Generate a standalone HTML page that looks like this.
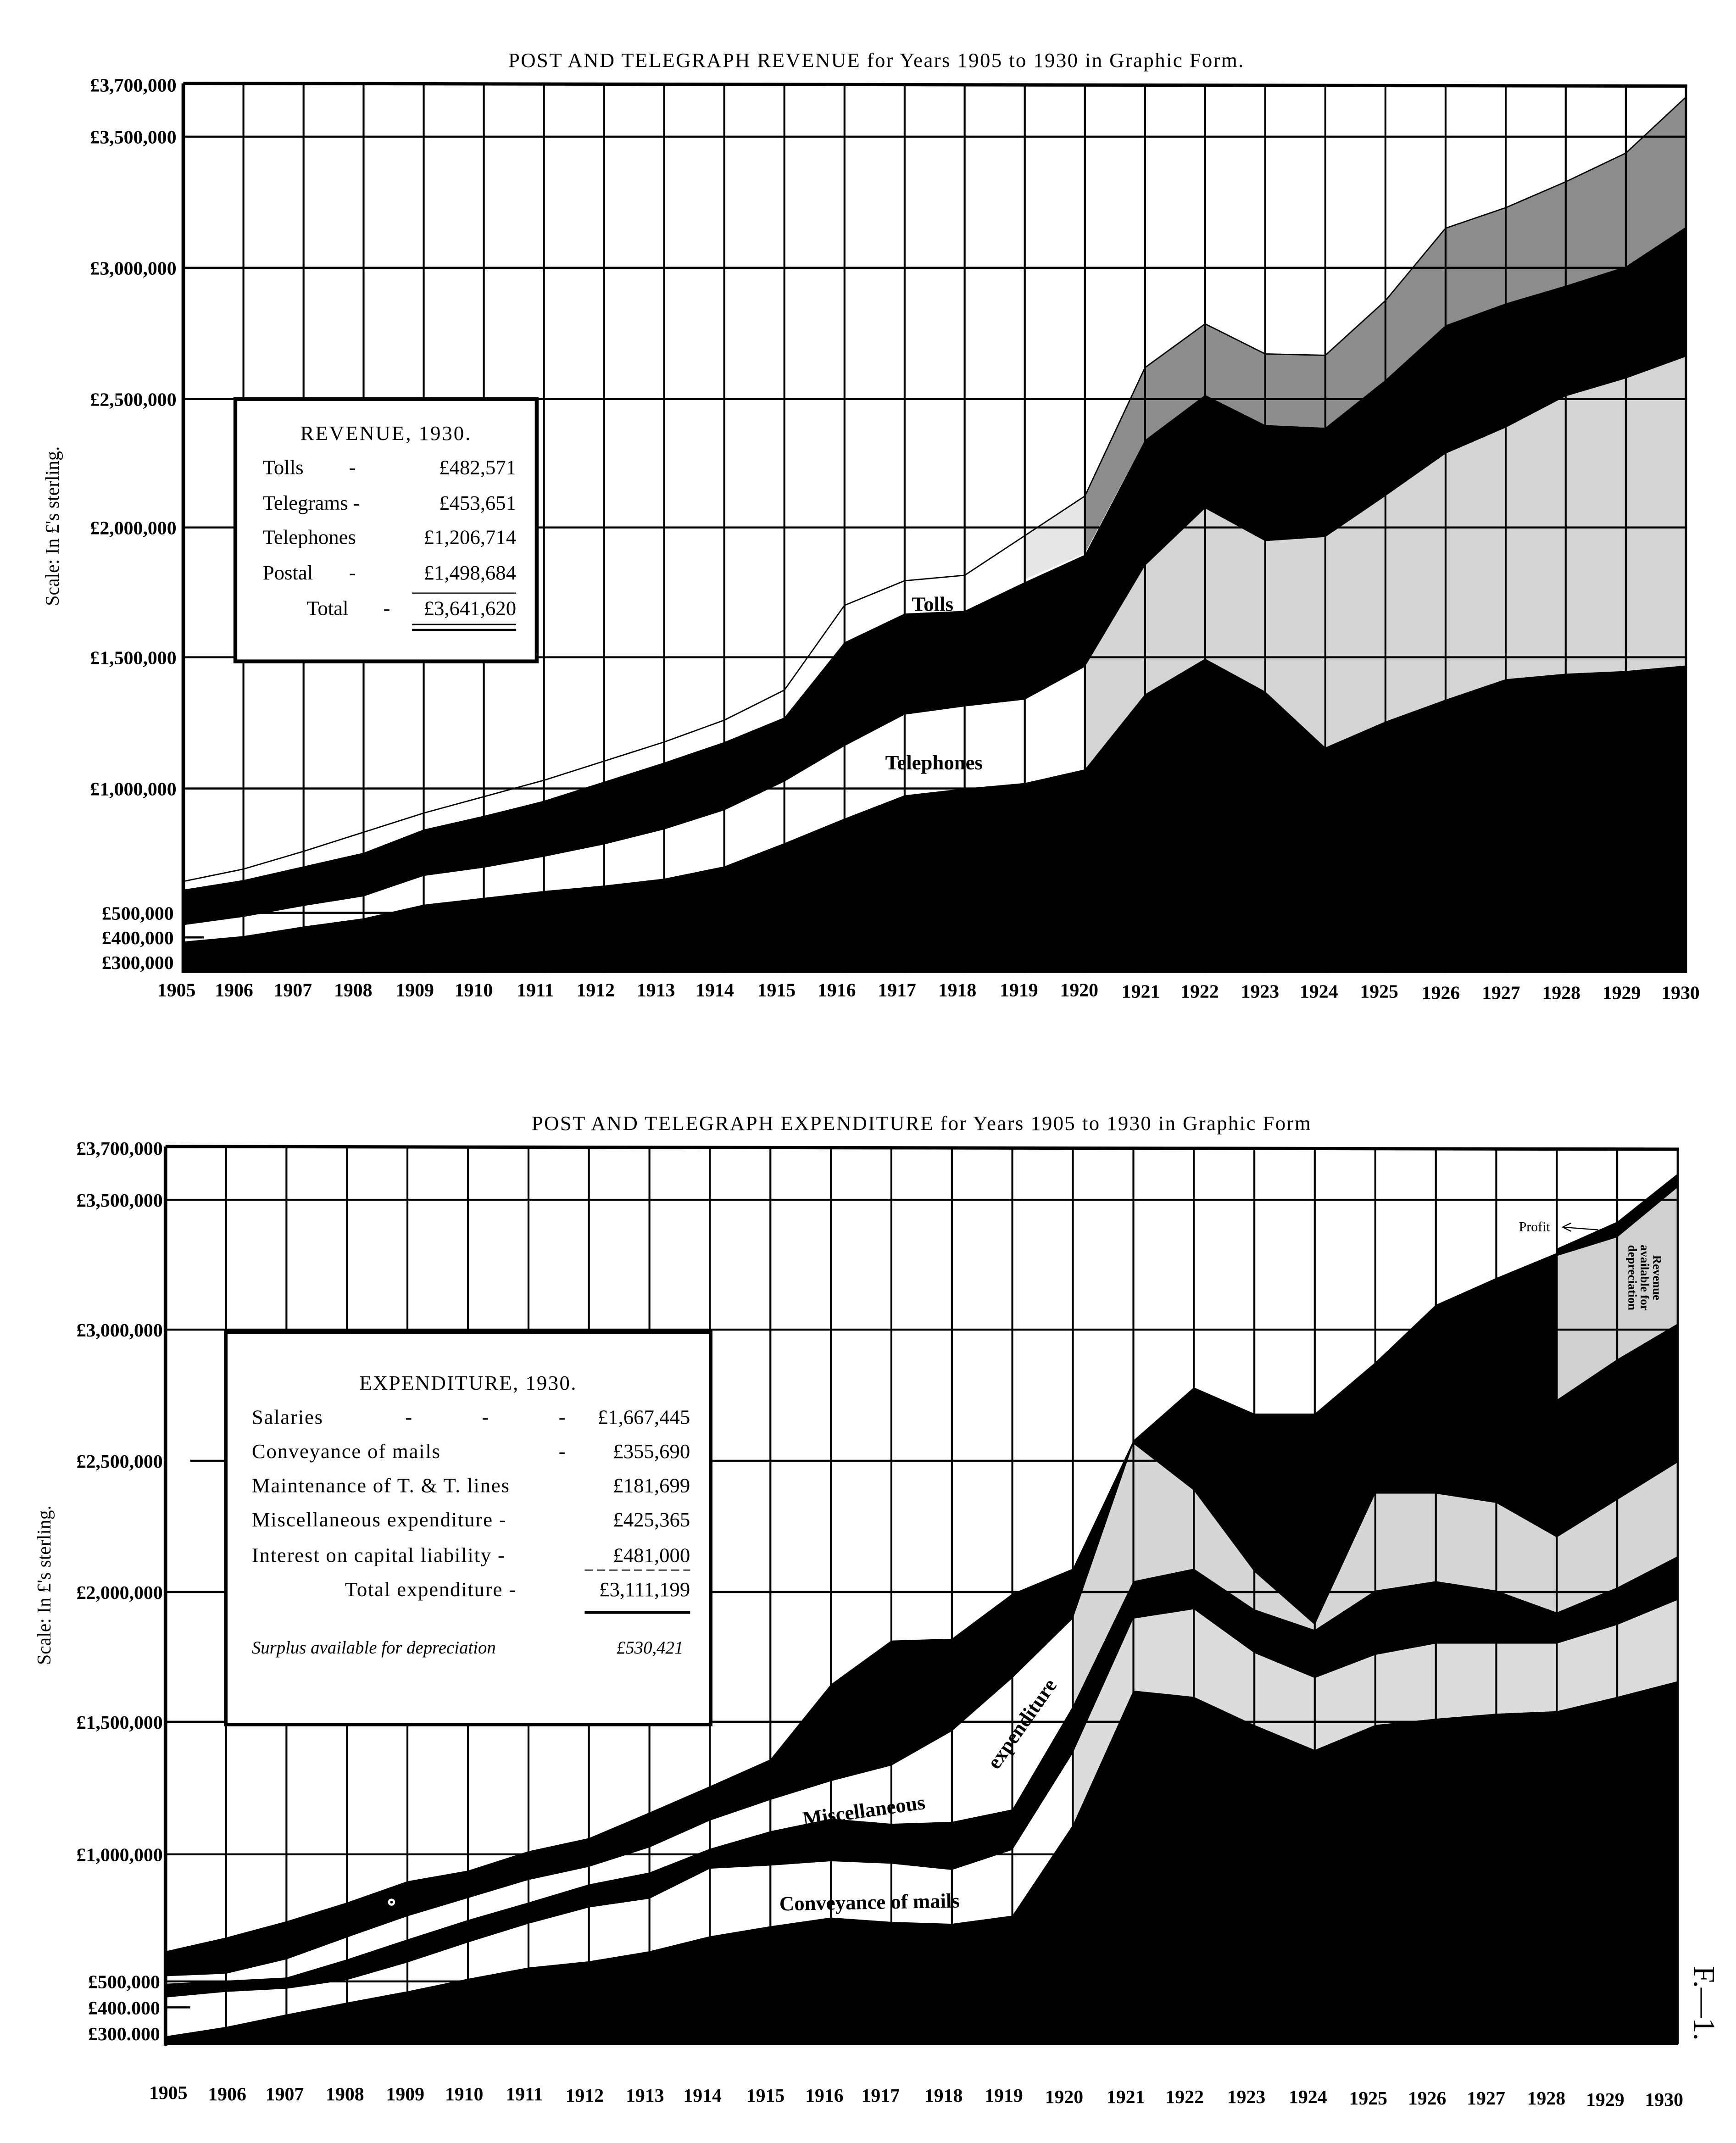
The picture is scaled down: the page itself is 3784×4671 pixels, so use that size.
<!DOCTYPE html>
<html><head><meta charset="utf-8"><style>
html,body{margin:0;padding:0;background:#fff;}
svg{display:block;}
text{font-family:"Liberation Serif",serif;fill:#000;}
.yl{font-size:14px;font-weight:bold;text-anchor:end;}
.xl{font-size:14px;font-weight:bold;text-anchor:middle;}
.lg{font-size:15px;}
</style></head><body>
<svg width="3784" height="4671" viewBox="0 0 1280 1580" preserveAspectRatio="none" xmlns="http://www.w3.org/2000/svg">
<rect x="0" y="0" width="1280" height="1580" fill="#fff"/>
<g transform="matrix(1.01 0 0 1.0075 -1.2 0)">

<!-- ================= TOP CHART ================= -->
<text x="641" y="49" font-size="15" text-anchor="middle" letter-spacing="0.8">POST AND TELEGRAPH REVENUE for Years 1905 to 1930 in Graphic Form.</text>

<g transform="matrix(43.88 0 0 1 135 0)">
  <polygon fill="#d4d4d4" points="15,488 16,414 17,372 18,396 19,393 20,363 21,332 22,313 23,290 24,277 25,261 25,487 24,491 23,493 22,497 21,512 20,528 19,547 18,506 17,482 16,508 15,563"/>
  <polygon fill="#8c8c8c" points="15,363 16,269 17,237 18,259 19,260 20,220 21,167 22,152 23,133 24,112 25,71 25,166 24,195 23,209 22,222 21,238 20,278 19,313 18,311 17,289 16,322 15,405"/>
  <polygon fill="#e6e6e6" points="14,392 15,363 15,405 14,424"/>
</g>

<g stroke="#000" stroke-width="1.5">
  <line x1="135" y1="100" x2="1232" y2="100"/>
  <line x1="135" y1="196" x2="1232" y2="196"/>
  <line x1="135" y1="292" x2="1232" y2="292"/>
  <line x1="135" y1="386" x2="1232" y2="386"/>
  <line x1="135" y1="481" x2="1232" y2="481"/>
  <line x1="135" y1="577" x2="1232" y2="577"/>
  <line x1="135" y1="668" x2="400" y2="668"/>
  <line x1="135" y1="686" x2="150" y2="686"/>
</g>
<g stroke="#000" stroke-width="1.4">
  <line x1="178.9" y1="62" x2="178.9" y2="712"/><line x1="222.8" y1="62" x2="222.8" y2="712"/>
  <line x1="266.6" y1="62" x2="266.6" y2="712"/><line x1="310.5" y1="62" x2="310.5" y2="712"/>
  <line x1="354.4" y1="62" x2="354.4" y2="712"/><line x1="398.3" y1="62" x2="398.3" y2="712"/>
  <line x1="442.2" y1="62" x2="442.2" y2="712"/><line x1="486" y1="62" x2="486" y2="712"/>
  <line x1="529.9" y1="62" x2="529.9" y2="712"/><line x1="573.8" y1="62" x2="573.8" y2="712"/>
  <line x1="617.7" y1="62" x2="617.7" y2="712"/><line x1="661.6" y1="62" x2="661.6" y2="712"/>
  <line x1="705.4" y1="62" x2="705.4" y2="712"/><line x1="749.3" y1="62" x2="749.3" y2="712"/>
  <line x1="793.2" y1="62" x2="793.2" y2="712"/><line x1="837.1" y1="62" x2="837.1" y2="712"/>
  <line x1="881" y1="62" x2="881" y2="712"/><line x1="924.8" y1="62" x2="924.8" y2="712"/>
  <line x1="968.7" y1="62" x2="968.7" y2="712"/><line x1="1012.6" y1="62" x2="1012.6" y2="712"/>
  <line x1="1056.5" y1="62" x2="1056.5" y2="712"/><line x1="1100.4" y1="62" x2="1100.4" y2="712"/>
  <line x1="1144.2" y1="62" x2="1144.2" y2="712"/><line x1="1188.1" y1="62" x2="1188.1" y2="712"/>
</g>
<line x1="135" y1="61" x2="1233" y2="63" stroke="#000" stroke-width="2.4"/>
<line x1="135" y1="61" x2="135" y2="712" stroke="#000" stroke-width="2.6"/>
<line x1="1232" y1="63" x2="1232" y2="712" stroke="#000" stroke-width="1.6"/>

<g transform="matrix(43.88 0 0 1 135 0)">
  <polygon fill="#000" points="0,712 0,689 1,685 2,678 3,672 4,662 5,657 6,652 7,648 8,643 9,634 10,617 11,599 12,582 13,577 14,573 15,563 16,508 17,482 18,506 19,547 20,528 21,512 22,497 23,493 24,491 25,487 25,712"/>
  <polygon fill="#000" points="0,651 1,644 2,634 3,624 4,607 5,597 6,586 7,572 8,558 9,543 10,525 11,470 12,449 13,447 14,426 15,406 16,322 17,289 18,311 19,313 20,278 21,238 22,222 23,209 24,195 25,166 25,261 24,277 23,290 22,313 21,332 20,363 19,393 18,396 17,372 16,414 15,488 14,512 13,517 12,523 11,546 10,572 9,593 8,607 7,618 6,627 5,635 4,641 3,656 2,663 1,671 0,677"/>
  <polyline fill="none" stroke="#000" stroke-width="2.8" vector-effect="non-scaling-stroke" points="0,645 1,636 2,623 3,609 4,595 5,583 6,571 7,557 8,543 9,527 10,505 11,443 12,425 13,421 14,392 15,363 16,269 17,237 18,259 19,260 20,220 21,167 22,152 23,133 24,112 25,71"/>
</g>
<text x="682" y="447" font-size="15" font-weight="bold" text-anchor="middle">Tolls</text>
<text x="683" y="563" font-size="15" font-weight="bold" text-anchor="middle">Telephones</text>

<rect x="173" y="292" width="220" height="192" fill="#fff" stroke="#000" stroke-width="2.8"/>
<text class="lg" x="283" y="322" text-anchor="middle" letter-spacing="1">REVENUE, 1930.</text>
<text class="lg" x="193" y="347">Tolls</text><text class="lg" x="256" y="347">-</text><text class="lg" x="378" y="347" text-anchor="end">£482,571</text>
<text class="lg" x="193" y="373">Telegrams -</text><text class="lg" x="378" y="373" text-anchor="end">£453,651</text>
<text class="lg" x="193" y="398">Telephones</text><text class="lg" x="378" y="398" text-anchor="end">£1,206,714</text>
<text class="lg" x="193" y="424">Postal</text><text class="lg" x="256" y="424">-</text><text class="lg" x="378" y="424" text-anchor="end">£1,498,684</text>
<text class="lg" x="225" y="450">Total</text><text class="lg" x="281" y="450">-</text><text class="lg" x="378" y="450" text-anchor="end">£3,641,620</text>
<line x1="302" y1="434" x2="378" y2="434" stroke="#000" stroke-width="0.8"/>
<line x1="302" y1="457" x2="378" y2="457" stroke="#000" stroke-width="1"/>
<line x1="302" y1="461" x2="378" y2="461" stroke="#000" stroke-width="1.6"/>

<text class="yl" x="130" y="67">£3,700,000</text>
<text class="yl" x="130" y="105">£3,500,000</text>
<text class="yl" x="130" y="201">£3,000,000</text>
<text class="yl" x="130" y="297">£2,500,000</text>
<text class="yl" x="130" y="391">£2,000,000</text>
<text class="yl" x="130" y="486">£1,500,000</text>
<text class="yl" x="130" y="582">£1,000,000</text>
<text class="yl" x="128" y="673">£500,000</text>
<text class="yl" x="128" y="691">£400,000</text>
<text class="yl" x="128" y="709">£300,000</text>
<text x="44" y="385" font-size="14" text-anchor="middle" transform="rotate(-90 44 385)">Scale: In £'s sterling.</text>

<text class="xl" x="130" y="729">1905</text><text class="xl" x="172" y="729">1906</text><text class="xl" x="215" y="729">1907</text>
<text class="xl" x="259" y="729">1908</text><text class="xl" x="304" y="729">1909</text><text class="xl" x="347" y="729">1910</text>
<text class="xl" x="392" y="729">1911</text><text class="xl" x="436" y="729">1912</text><text class="xl" x="480" y="729">1913</text>
<text class="xl" x="523" y="729">1914</text><text class="xl" x="568" y="729">1915</text><text class="xl" x="612" y="729">1916</text>
<text class="xl" x="656" y="729">1917</text><text class="xl" x="700" y="729">1918</text><text class="xl" x="745" y="729">1919</text>
<text class="xl" x="789" y="729">1920</text><text class="xl" x="834" y="730">1921</text><text class="xl" x="877" y="730">1922</text>
<text class="xl" x="921" y="730">1923</text><text class="xl" x="964" y="730">1924</text><text class="xl" x="1008" y="730">1925</text>
<text class="xl" x="1053" y="731">1926</text><text class="xl" x="1097" y="731">1927</text><text class="xl" x="1141" y="731">1928</text>
<text class="xl" x="1185" y="731">1929</text><text class="xl" x="1228" y="731">1930</text>

<!-- ================= BOTTOM CHART ================= -->
<text x="674" y="827" font-size="15" text-anchor="middle" letter-spacing="0.8">POST AND TELEGRAPH EXPENDITURE for Years 1905 to 1930 in Graphic Form</text>

<g transform="matrix(44.16 0 0 0.4575 122 823.1)">
  <polygon fill="#dcdcdc" points="15,1005 16,790 17,775 18,845 19,885 20,848 21,830 22,830 23,830 24,800 25,760 25,890 24,915 23,938 22,942 21,950 20,960 19,1000 18,960 17,915 16,905 15,1120"/>
  <polygon fill="#d6d6d6" points="15,790 16,510 17,585 18,715 19,800 20,590 21,590 22,605 23,660 24,600 25,540 25,690 24,740 23,780 22,745 21,730 20,745 19,808 18,775 17,710 16,730 15,930"/>
  <polygon fill="#d0d0d0" points="23,440 24,375 25,318 25,98 24,180 23,205"/>
</g>

<g stroke="#000" stroke-width="1.5">
  <line x1="122" y1="878" x2="1226" y2="878"/>
  <line x1="122" y1="973" x2="1226" y2="973"/>
  <line x1="140" y1="1069" x2="1226" y2="1069"/>
  <line x1="122" y1="1165" x2="1226" y2="1165"/>
  <line x1="122" y1="1260" x2="1226" y2="1260"/>
  <line x1="122" y1="1357" x2="1226" y2="1357"/>
  <line x1="122" y1="1450" x2="400" y2="1450"/>
  <line x1="122" y1="1469" x2="140" y2="1469"/>
</g>
<g stroke="#000" stroke-width="1.4">
  <line x1="166.2" y1="840" x2="166.2" y2="1496"/><line x1="210.3" y1="840" x2="210.3" y2="1496"/>
  <line x1="254.5" y1="840" x2="254.5" y2="1496"/><line x1="298.6" y1="840" x2="298.6" y2="1496"/>
  <line x1="342.8" y1="840" x2="342.8" y2="1496"/><line x1="387" y1="840" x2="387" y2="1496"/>
  <line x1="431.1" y1="840" x2="431.1" y2="1496"/><line x1="475.3" y1="840" x2="475.3" y2="1496"/>
  <line x1="519.4" y1="840" x2="519.4" y2="1496"/><line x1="563.6" y1="840" x2="563.6" y2="1496"/>
  <line x1="607.8" y1="840" x2="607.8" y2="1496"/><line x1="651.9" y1="840" x2="651.9" y2="1496"/>
  <line x1="696.1" y1="840" x2="696.1" y2="1496"/><line x1="740.2" y1="840" x2="740.2" y2="1496"/>
  <line x1="784.4" y1="840" x2="784.4" y2="1496"/><line x1="828.6" y1="840" x2="828.6" y2="1496"/>
  <line x1="872.7" y1="840" x2="872.7" y2="1496"/><line x1="916.9" y1="840" x2="916.9" y2="1496"/>
  <line x1="961" y1="840" x2="961" y2="1496"/><line x1="1005.2" y1="840" x2="1005.2" y2="1496"/>
  <line x1="1049.4" y1="840" x2="1049.4" y2="1496"/><line x1="1093.5" y1="840" x2="1093.5" y2="1496"/>
  <line x1="1137.7" y1="840" x2="1137.7" y2="1496"/><line x1="1181.8" y1="840" x2="1181.8" y2="1496"/>
</g>
<line x1="122" y1="839" x2="1227" y2="841" stroke="#000" stroke-width="2.4"/>
<line x1="122" y1="839" x2="122" y2="1497" stroke="#000" stroke-width="2.6"/>
<line x1="1226" y1="841" x2="1226" y2="1496" stroke="#000" stroke-width="1.6"/>

<g transform="matrix(44.16 0 0 0.4575 122 823.1)">
  <polygon fill="#000" points="0,1472 0,1458 1,1443 2,1423 3,1404 4,1386 5,1366 6,1348 7,1338 8,1322 9,1298 10,1282 11,1268 12,1275 13,1278 14,1265 15,1120 16,905 17,915 18,960 19,1000 20,960 21,950 22,942 23,938 24,915 25,890 25,1472"/>
  <polygon fill="#000" points="0,1374 1,1369 2,1364 3,1335 4,1303 5,1272 6,1244 7,1215 8,1196 9,1158 10,1130 11,1110 12,1118 13,1115 14,1095 15,930 16,730 17,710 18,775 19,808 20,745 21,730 22,745 23,780 24,740 25,690 25,760 24,800 23,830 22,830 21,830 20,848 19,885 18,845 17,775 16,790 15,1005 14,1160 13,1192 12,1182 11,1178 10,1185 9,1190 8,1238 7,1252 6,1278 5,1308 4,1340 3,1368 2,1382 1,1387 0,1396"/>
  <polygon fill="#000" points="0,1322 1,1300 2,1274 3,1244 4,1210 5,1193 6,1162 7,1141 8,1100 9,1058 10,1015 11,895 12,825 13,822 14,750 15,710 16,505 17,420 18,462 19,462 20,380 21,288 22,245 23,205 23,440 24,375 25,318 25,540 24,600 23,660 22,605 21,590 20,590 19,800 18,715 17,585 16,510 15,790 14,885 13,970 12,1025 11,1050 10,1080 9,1113 8,1156 7,1187 6,1208 5,1237 4,1266 3,1300 2,1335 1,1358 0,1362"/>
  <polygon fill="#000" points="23,198 24,155 25,78 25,100 24,180 23,210"/>
</g>
<circle cx="287" cy="1392" r="2.6" fill="#fff"/>
<circle cx="287" cy="1392" r="1" fill="#000"/>

<text x="632" y="1330" font-size="15" font-weight="bold" text-anchor="middle" transform="rotate(-8 632 1326)">Miscellaneous</text>
<text x="748" y="1266" font-size="15" font-weight="bold" text-anchor="middle" transform="rotate(-55 748 1262)">expenditure</text>
<text x="636" y="1397" font-size="15" font-weight="bold" text-anchor="middle" transform="rotate(-1 636 1393)">Conveyance of mails</text>
<text x="1110" y="901" font-size="10">Profit</text>
<line x1="1142" y1="898" x2="1168" y2="900" stroke="#000" stroke-width="0.8"/>
<polyline points="1148,895 1142,898 1148,901" fill="none" stroke="#000" stroke-width="0.8"/>
<g font-size="9" font-weight="bold">
<text x="1208" y="935" text-anchor="middle" transform="rotate(90 1208 935)">Revenue</text>
<text x="1199" y="935" text-anchor="middle" transform="rotate(90 1199 935)">available for</text>
<text x="1190" y="935" text-anchor="middle" transform="rotate(90 1190 935)">depreciation</text>
</g>
<text x="1238" y="1466" font-size="22" text-anchor="middle" transform="rotate(90 1238 1466)">F.—1.</text>

<rect x="166" y="975" width="354" height="287" fill="#fff" stroke="#000" stroke-width="2.6"/>
<text class="lg" x="343" y="1017" text-anchor="middle" letter-spacing="0.8">EXPENDITURE, 1930.</text>
<text class="lg" x="185" y="1042" letter-spacing="0.6">Salaries</text><text class="lg" x="297" y="1042">-</text><text class="lg" x="353" y="1042">-</text><text class="lg" x="409" y="1042">-</text><text class="lg" x="505" y="1042" text-anchor="end">£1,667,445</text>
<text class="lg" x="185" y="1067" letter-spacing="0.6">Conveyance of mails</text><text class="lg" x="409" y="1067">-</text><text class="lg" x="505" y="1067" text-anchor="end">£355,690</text>
<text class="lg" x="185" y="1092" letter-spacing="0.6">Maintenance of T. &amp; T. lines</text><text class="lg" x="505" y="1092" text-anchor="end">£181,699</text>
<text class="lg" x="185" y="1117" letter-spacing="0.6">Miscellaneous expenditure -</text><text class="lg" x="505" y="1117" text-anchor="end">£425,365</text>
<text class="lg" x="185" y="1143" letter-spacing="0.6">Interest on capital liability -</text><text class="lg" x="505" y="1143" text-anchor="end">£481,000</text>
<line x1="428" y1="1149" x2="505" y2="1149" stroke="#000" stroke-width="0.8" stroke-dasharray="6 3"/>
<text class="lg" x="253" y="1168" letter-spacing="0.6">Total expenditure -</text><text class="lg" x="505" y="1168" text-anchor="end">£3,111,199</text>
<line x1="428" y1="1180" x2="505" y2="1180" stroke="#000" stroke-width="2"/>
<text x="185" y="1210" font-size="13" font-style="italic">Surplus available for depreciation</text>
<text x="500" y="1210" font-size="13" font-style="italic" text-anchor="end">£530,421</text>

<text class="yl" x="120" y="845">£3,700,000</text>
<text class="yl" x="120" y="883">£3,500,000</text>
<text class="yl" x="120" y="978">£3,000,000</text>
<text class="yl" x="120" y="1074">£2,500,000</text>
<text class="yl" x="120" y="1170">£2,000,000</text>
<text class="yl" x="120" y="1265">£1,500,000</text>
<text class="yl" x="120" y="1362">£1,000,000</text>
<text class="yl" x="118" y="1455">£500,000</text>
<text class="yl" x="118" y="1474">£400.000</text>
<text class="yl" x="118" y="1493">£300.000</text>
<text x="38" y="1160" font-size="14" text-anchor="middle" transform="rotate(-90 38 1160)">Scale: In £'s sterling.</text>

<text class="xl" x="124" y="1536">1905</text><text class="xl" x="167" y="1537">1906</text><text class="xl" x="209" y="1537">1907</text>
<text class="xl" x="253" y="1537">1908</text><text class="xl" x="297" y="1537">1909</text><text class="xl" x="340" y="1537">1910</text>
<text class="xl" x="384" y="1537">1911</text><text class="xl" x="428" y="1538">1912</text><text class="xl" x="472" y="1538">1913</text>
<text class="xl" x="514" y="1538">1914</text><text class="xl" x="560" y="1538">1915</text><text class="xl" x="603" y="1538">1916</text>
<text class="xl" x="644" y="1538">1917</text><text class="xl" x="690" y="1538">1918</text><text class="xl" x="734" y="1538">1919</text>
<text class="xl" x="778" y="1539">1920</text><text class="xl" x="823" y="1539">1921</text><text class="xl" x="866" y="1539">1922</text>
<text class="xl" x="911" y="1539">1923</text><text class="xl" x="956" y="1539">1924</text><text class="xl" x="1000" y="1540">1925</text>
<text class="xl" x="1043" y="1540">1926</text><text class="xl" x="1086" y="1540">1927</text><text class="xl" x="1130" y="1540">1928</text>
<text class="xl" x="1173" y="1541">1929</text><text class="xl" x="1216" y="1541">1930</text>
</g>
</svg>
</body></html>
